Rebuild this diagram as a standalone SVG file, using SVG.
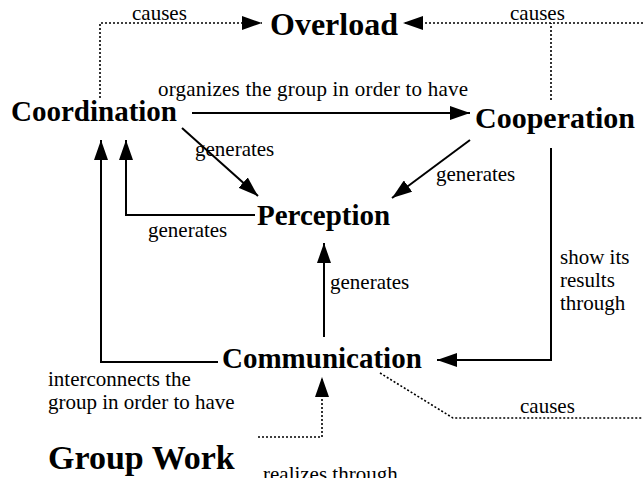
<svg xmlns="http://www.w3.org/2000/svg" width="643" height="478" viewBox="0 0 643 478">
<style>
.node{font-family:"Liberation Serif","Times New Roman",serif;font-weight:bold;font-size:29px;fill:#000}
.lbl{font-family:"Liberation Serif","Times New Roman",serif;font-size:21px;fill:#000}
.solid{fill:none;stroke:#000;stroke-width:2}
.dot{fill:none;stroke:#000;stroke-width:1.6;stroke-dasharray:2,2}
</style>
<defs>
<marker id="ah" viewBox="0 0 20 14" refX="20" refY="7" markerWidth="20" markerHeight="14" markerUnits="userSpaceOnUse" orient="auto">
<path d="M0,0 L20,7 L0,14 z" fill="#000"/>
</marker>
</defs>
<rect width="643" height="478" fill="#fff"/>
<g id="connectors">
<path class="dot" d="M100,98 V23 H262" marker-end="url(#ah)"/>
<path class="dot" d="M643,23 H403" marker-end="url(#ah)"/>
<path class="dot" d="M551,100 V23"/>
<path class="solid" d="M192,113 H470" marker-end="url(#ah)"/>
<path class="solid" d="M182,128 L258,196" marker-end="url(#ah)"/>
<path class="solid" d="M470,140 L392,198" marker-end="url(#ah)"/>
<path class="solid" d="M255,215 H126 V140" marker-end="url(#ah)"/>
<path class="solid" d="M218,362 H101 V140" marker-end="url(#ah)"/>
<path class="solid" d="M324,337 V243" marker-end="url(#ah)"/>
<path class="solid" d="M551,148 V360 H437" marker-end="url(#ah)"/>
<path class="dot" d="M258,437 H322 V377" marker-end="url(#ah)"/>
<path class="dot" d="M380,373 L453,418 H643"/>
<text class="lbl" x="132" y="20">causes</text>
<text class="lbl" x="510" y="20">causes</text>
<text class="lbl" x="158" y="96" textLength="310" lengthAdjust="spacing">organizes the group in order to have</text>
<text class="lbl" x="195" y="156">generates</text>
<text class="lbl" x="436" y="181">generates</text>
<text class="lbl" x="148" y="237">generates</text>
<text class="lbl" x="330" y="289">generates</text>
<text class="lbl" x="560" y="264">show its</text>
<text class="lbl" x="560" y="287">results</text>
<text class="lbl" x="560" y="310">through</text>
<text class="lbl" x="48" y="386">interconnects the</text>
<text class="lbl" x="48" y="409">group in order to have</text>
<text class="lbl" x="520" y="413">causes</text>
<text class="lbl" x="263" y="481">realizes through</text>
</g>
<g id="overload"><text class="node" x="270" y="35" style="font-size:32px">Overload</text></g>
<g id="coordination"><text class="node" x="11" y="121">Coordination</text></g>
<g id="cooperation"><text class="node" x="475" y="128" style="font-size:30px">Cooperation</text></g>
<g id="perception"><text class="node" x="257" y="225">Perception</text></g>
<g id="communication"><text class="node" x="222" y="368">Communication</text></g>
<g id="groupwork"><text class="node" x="48" y="469" style="font-size:34px">Group Work</text></g>
</svg>
